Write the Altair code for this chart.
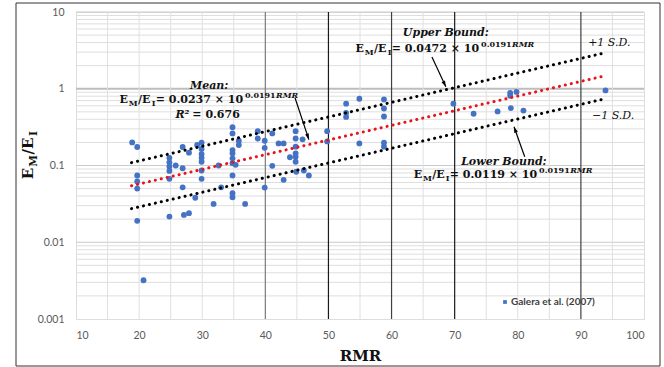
import altair as alt
import pandas as pd

# ---------------- data ----------------
rmr = [18.9, 19.7, 19.7, 19.7, 19.7, 19.7, 20.7,
       24.8, 24.8, 24.8, 24.8, 24.8, 24.8, 25.8,
       26.9, 26.9, 26.9, 27.1, 27.9, 27.9, 28.9,
       29.2, 29.9, 29.9, 29.9, 29.9, 29.9, 29.9, 29.9,
       31.8, 32.6, 33.0,
       34.8, 34.8, 34.8, 34.8, 34.8, 34.8, 34.8, 34.8, 34.8, 35.3, 35.8, 35.8, 36.8,
       38.8, 38.8, 39.9, 39.9, 39.9, 41.1, 41.1, 42.1, 42.9, 42.9, 43.9,
       44.8, 44.8, 44.8, 44.8, 44.8, 44.8, 44.9, 45.9, 46.1, 46.9,
       49.8, 49.8, 52.8, 52.8, 52.8, 54.9, 54.9, 58.8, 58.8, 58.8, 58.8, 58.8,
       69.8, 73.0, 76.8, 78.8, 78.8, 78.9, 79.8, 80.9, 93.9]
em_ei = [0.20, 0.174, 0.074, 0.062, 0.050, 0.019, 0.0032,
         0.126, 0.11, 0.097, 0.085, 0.067, 0.0216, 0.10,
         0.174, 0.092, 0.052, 0.0227, 0.147, 0.0239, 0.038,
         0.185, 0.198, 0.164, 0.141, 0.126, 0.112, 0.086, 0.067,
         0.0316, 0.10, 0.052,
         0.316, 0.262, 0.159, 0.144, 0.124, 0.107, 0.074, 0.0435, 0.0386, 0.102, 0.21, 0.185, 0.0316,
         0.28, 0.225, 0.21, 0.17, 0.0515, 0.262, 0.099, 0.194, 0.194, 0.065, 0.128,
         0.28, 0.225, 0.176, 0.144, 0.13, 0.112, 0.083, 0.219, 0.086, 0.074,
         0.28, 0.206, 0.64, 0.486, 0.43, 0.74, 0.194, 0.725, 0.553, 0.435, 0.198, 0.176,
         0.64, 0.472, 0.506, 0.885, 0.81, 0.56, 0.91, 0.52, 0.95]

trend_rmr = [18.8, 93.9]
mean_vals = [0.0545, 1.48]
upper_vals = [0.109, 2.95]
lower_vals = [0.0274, 0.743]

x_ticks = [10, 20, 30, 40, 50, 60, 70, 80, 90, 100]
y_ticks = [0.001, 0.01, 0.1, 1, 10]
y_minor = [0.002, 0.003, 0.004, 0.005, 0.006, 0.007, 0.008, 0.009,
           0.02, 0.03, 0.04, 0.05, 0.06, 0.07, 0.08, 0.09,
           0.2, 0.3, 0.4, 0.5, 0.6, 0.7, 0.8, 0.9,
           2, 3, 4, 5, 6, 7, 8, 9]
x_light = [15, 20, 25, 30, 35, 45, 55, 65, 75, 80, 85, 95]
x_dark = [40, 50, 60, 70, 90]
x_dark_col = ["#7a7a7a", "#1a1a1a", "#404040", "#1a1a1a", "#404040"]

# arrows: start (x,y) -> head (x2,y2), angle of head
arrow_x = [44.7, 66.4, 81.1]
arrow_y = [0.762, 2.60, 0.130]
arrow_x2 = [46.9, 68.6, 79.4]
arrow_y2 = [0.217, 1.06, 0.32]
arrow_angle = [161.6, 155.0, 339.9]

series_name = "Galera et al. (2007)"

# ---------------- scales ----------------
XS = alt.Scale(domain=[10, 100], nice=False, zero=False)
YS = alt.Scale(type="log", domain=[0.001, 10], nice=False)
SERIF = "DejaVu Serif"
SANS = "Lato"

W = 568
H = 307

# ---------------- grid ----------------
grid_minor = alt.Chart(pd.DataFrame({"v": y_minor})).mark_rule(
    color="#dedede", strokeWidth=1).encode(y=alt.Y("v:Q", scale=YS))
grid_major = alt.Chart(pd.DataFrame({"v": [0.01, 0.1, 10]})).mark_rule(
    color="#cacaca", strokeWidth=1).encode(y=alt.Y("v:Q", scale=YS))
grid_one = alt.Chart(pd.DataFrame({"v": [1]})).mark_rule(
    color="#bdbdbd", strokeWidth=2).encode(y=alt.Y("v:Q", scale=YS))
vgrid_light = alt.Chart(pd.DataFrame({"v": x_light})).mark_rule(
    color="#e0e0e0", strokeWidth=1).encode(x=alt.X("v:Q", scale=XS))
vgrid_dark = alt.Chart(pd.DataFrame({"v": x_dark, "c": x_dark_col})).mark_rule(
    strokeWidth=1.2).encode(x=alt.X("v:Q", scale=XS), color=alt.Color("c:N", scale=None))

# ---------------- points ----------------
pts = alt.Chart(pd.DataFrame({"RMR": rmr, "E": em_ei})).mark_circle(
    size=34, color="#4472C4", opacity=1).encode(
    x=alt.X("RMR:Q", scale=XS,
            axis=alt.Axis(values=x_ticks, title="RMR", grid=False, ticks=False, domain=False,
                          labelFont=SANS, labelFontSize=10.5, labelColor="#595959",
                          labelPadding=11, titleFont=SERIF, titleFontSize=15,
                          titleFontWeight="bold", titleColor="#111111", titlePadding=8)),
    y=alt.Y("E:Q", scale=YS,
            axis=alt.Axis(values=y_ticks, title=None, grid=False, ticks=False, domain=False,
                          labelExpr="format(datum.value, '~g')",
                          labelFont=SANS, labelFontSize=10.5, labelColor="#595959",
                          labelPadding=12)))

# ---------------- trend lines ----------------
def trend(vals, color):
    return alt.Chart(pd.DataFrame({"RMR": trend_rmr, "E": vals})).mark_line(
        color=color, strokeWidth=3, strokeDash=[0.1, 6], strokeCap="round").encode(
        x=alt.X("RMR:Q", scale=XS), y=alt.Y("E:Q", scale=YS))

lines = [trend(upper_vals, "#000000"), trend(lower_vals, "#000000"), trend(mean_vals, "#e8141b")]

# ---------------- arrows ----------------
adf = pd.DataFrame({"x": arrow_x, "y": arrow_y, "x2": arrow_x2, "y2": arrow_y2, "a": arrow_angle})
arrow_shafts = alt.Chart(adf).mark_rule(color="#000000", strokeWidth=1.2).encode(
    x=alt.X("x:Q", scale=XS), y=alt.Y("y:Q", scale=YS), x2="x2:Q", y2="y2:Q")
arrow_heads = alt.Chart(adf).mark_point(
    shape="M0,0L-0.7,2.2L0.7,2.2Z", filled=True, color="#000000", opacity=1, size=30).encode(
    x=alt.X("x2:Q", scale=XS), y=alt.Y("y2:Q", scale=YS), angle=alt.Angle("a:Q", scale=None))

# ---------------- text helpers ----------------
EMW = {"E": 0.84, "M": 1.16, "I": 0.50, "R": 0.84, "/": 0.40, "=": 0.72, "×": 0.72,
       " ": 0.35, ".": 0.38}


def tw(s, size):
    return sum(EMW.get(c, 0.70) for c in s) * size


def rich(xv, yv, pieces, angle=0, pixel=False):
    total = sum(tw(p[0], p[1]) for p in pieces)
    cur = -total / 2
    out = []
    for text, size, style, dy in pieces:
        if pixel:
            enc = dict(x=alt.value(xv), y=alt.value(yv))
            base = alt.Chart(pd.DataFrame({"a": [0]}))
        else:
            enc = dict(x=alt.X("x:Q", scale=XS), y=alt.Y("y:Q", scale=YS))
            base = alt.Chart(pd.DataFrame({"x": [xv], "y": [yv]}))
        out.append(base.mark_text(
            text=text, font=SERIF, fontSize=size, fontWeight="bold", fontStyle=style,
            align="left", baseline="alphabetic", dx=cur, dy=dy, angle=angle,
            color="#111111").encode(**enc))
        cur += tw(text, size)
    return out


def formula(xv, yv, coef):
    B, S = 11, 8
    return rich(xv, yv, [("E", B, "normal", 0), ("M", S, "normal", 3),
                         ("/E", B, "normal", 0), ("I", S, "normal", 3),
                         (" = " + coef + " × 10", B, "normal", 0),
                         ("0.0191", S, "normal", -5), ("RMR", S, "italic", -5)])


def label(xv, yv, text, weight="bold", style="italic", size=11):
    return alt.Chart(pd.DataFrame({"x": [xv], "y": [yv]})).mark_text(
        text=text, font=SERIF, fontSize=size, fontWeight=weight, fontStyle=style,
        align="center", baseline="middle", color="#111111").encode(
        x=alt.X("x:Q", scale=XS), y=alt.Y("y:Q", scale=YS))


texts = []
texts.append(label(31.1, 1.09, "Mean:"))
texts += formula(31.1, 0.656, "0.0237")
texts += rich(31.1, 0.41, [("R²", 11, "italic", 0), (" = 0.676", 11, "normal", 0)])
texts.append(label(68.6, 5.33, "Upper Bound:"))
texts += formula(68.5, 3.02, "0.0472")
texts.append(label(77.8, 0.112, "Lower Bound:"))
texts += formula(77.7, 0.0693, "0.0119")
texts.append(label(94.5, 3.95, "+1 S.D.", weight="normal"))
texts.append(label(95.1, 0.445, "−1 S.D.", weight="normal"))

# y title (rotated, with subscripts)
ytitle = rich(-43, 143, [("E", 15, "normal", 0), ("M", 10.5, "normal", 4),
                         ("/E", 15, "normal", 0), ("I", 10.5, "normal", 4)],
              angle=270, pixel=True)

# legend
legend_pt = alt.Chart(pd.DataFrame({"a": [0]})).mark_square(
    size=14, color="#4472C4", opacity=1).encode(x=alt.value(429), y=alt.value(290))
legend_tx = alt.Chart(pd.DataFrame({"a": [0]})).mark_text(
    text=series_name, font=SANS, fontSize=10, fontWeight="bold", align="left",
    baseline="middle", color="#404040").encode(x=alt.value(435), y=alt.value(290))

# outer frame
frame = alt.Chart(pd.DataFrame({"a": [0]})).mark_rect(
    fill=None, stroke="#333333", strokeWidth=1).encode(
    x=alt.value(-60), x2=alt.value(584), y=alt.value(-9), y2=alt.value(354))

chart = alt.layer(
    grid_minor, grid_major, grid_one, vgrid_light, vgrid_dark,
    pts, *lines, arrow_shafts, arrow_heads, *texts, *ytitle, legend_pt, legend_tx, frame
).properties(
    width=W, height=H,
    autosize=alt.AutoSizeParams(type="none"),
    padding={"left": 76, "top": 12, "right": 20, "bottom": 48},
).configure_view(stroke="#a6a6a6", strokeWidth=1).configure(background="white")

chart.save("out.html", embed_options={"renderer": "svg", "actions": False})
